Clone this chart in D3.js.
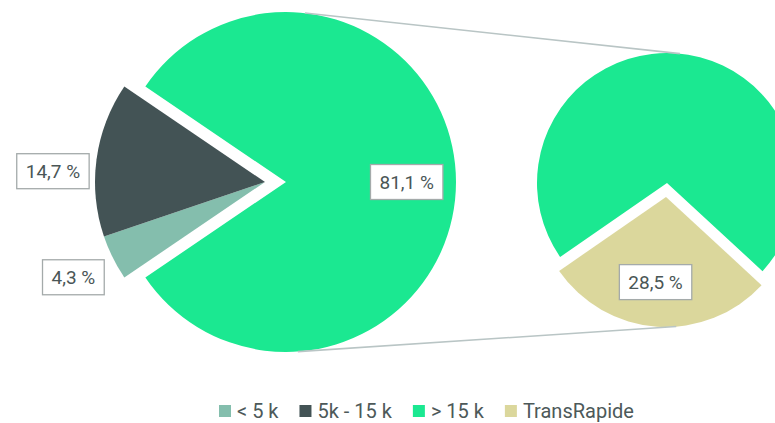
<!DOCTYPE html>
<html>
<head>
  <meta charset="utf-8">
  <title>Pie of pie</title>
  <script src="https://d3js.org/d3.v7.min.js"></script>
  <style>
    body { margin: 0; background: #fff; }
    svg { font-family: Roboto, "Noto Sans", sans-serif; }
  </style>
</head>
<body>
  <div id="chart"></div>
  <script>
    // data
    const mainCats = ["< 5 k", "5k - 15 k", "> 15 k"];
    const mainValues = [4.3, 14.7, 81.1];
    const subCats = ["TransRapide", "> 15 k"];
    const subValues = [28.5, 71.5];
    const legendCats = ["< 5 k", "5k - 15 k", "> 15 k", "TransRapide"];

    const colors = {
      "< 5 k": "#84bead",
      "5k - 15 k": "#435355",
      "> 15 k": "#1be891",
      "TransRapide": "#dbd79c"
    };

    const width = 775, height = 423;
    const deg = Math.PI / 180;
    const svg = d3.select("#chart").append("svg").attr("width", width).attr("height", height);

    const fmt = v => String(v.toFixed(1)).replace(".", ",") + " %";

    // main pie
    const mainC = [286, 182], mainR = 170;
    const total = d3.sum(mainValues);
    const othersHalf = (mainValues[0] + mainValues[1]) / total * 180;
    const mainStart = (270 - othersHalf) * deg;
    const mainPie = d3.pie().sort(null).startAngle(mainStart).endAngle(mainStart + 2 * Math.PI);
    const mainArcs = mainPie(mainValues);
    const arcMain = d3.arc().innerRadius(0).outerRadius(mainR);

    const explodeMain = 21;
    const gMain = svg.append("g").attr("transform", `translate(${mainC[0]},${mainC[1]})`);
    mainArcs.forEach((a, i) => {
      const off = i < 2 ? explodeMain : 0;
      const dir = 270 * deg;
      gMain.append("path")
        .attr("d", arcMain(a))
        .attr("fill", colors[mainCats[i]])
        .attr("transform", `translate(${Math.sin(dir) * off},${-Math.cos(dir) * off})`);
    });

    // sub pie
    const subC = [667, 183], subR = 130;
    const subMid = 184 * deg;
    const subSpan = subValues[0] / d3.sum(subValues) * 2 * Math.PI;
    const subStart = subMid - subSpan / 2;
    const subPie = d3.pie().sort(null).startAngle(subStart).endAngle(subStart + 2 * Math.PI);
    const subArcs = subPie(subValues);
    const arcSub = d3.arc().innerRadius(0).outerRadius(subR);
    const explodeSub = 14;
    const subOff = [Math.sin(subMid) * explodeSub, -Math.cos(subMid) * explodeSub];

    const gSub = svg.append("g").attr("transform", `translate(${subC[0]},${subC[1]})`);
    subArcs.forEach((a, i) => {
      const off = i === 0 ? subOff : [0, 0];
      gSub.append("path")
        .attr("d", arcSub(a))
        .attr("fill", colors[subCats[i]])
        .attr("transform", `translate(${off[0]},${off[1]})`);
    });

    // connector lines
    const pt = (c, r, a, o = [0, 0]) => [c[0] + o[0] + Math.sin(a * deg) * r, c[1] + o[1] - Math.cos(a * deg) * r];
    const lines = [
      [pt(mainC, mainR, 6.4), pt(subC, subR, 5.7)],
      [pt(mainC, mainR, 176), pt(subC, subR, 175.5, subOff)]
    ];
    svg.selectAll("line.conn").data(lines).enter().append("line")
      .attr("class", "conn")
      .attr("x1", d => d[0][0]).attr("y1", d => d[0][1])
      .attr("x2", d => d[1][0]).attr("y2", d => d[1][1])
      .attr("stroke", "#b9c5c5").attr("stroke-width", 1.6);

    // labels
    function label(x, y, text) {
      const g = svg.append("g").attr("transform", `translate(${x},${y})`);
      const t = g.append("text")
        .attr("text-anchor", "middle").attr("dy", "0.35em")
        .attr("font-size", 19).attr("fill", "#4a5656")
        .text(text);
      const w = t.node().getComputedTextLength();
      g.insert("rect", "text")
        .attr("x", -w / 2 - 9).attr("y", -17.5)
        .attr("width", w + 18).attr("height", 35)
        .attr("fill", "#fff").attr("stroke", "#a4aaaa").attr("stroke-width", 1.3);
    }

    const tipMain = [mainC[0] - explodeMain, mainC[1]];
    const labelNudge = [[0, 0], [0, 18], [0, 0]];
    mainArcs.forEach((a, i) => {
      const mid = (a.startAngle + a.endAngle) / 2 / deg;
      let p;
      if (i < 2) p = pt(tipMain, 214, mid);
      else p = pt(mainC, mainR * 0.71, mid);
      label(p[0] + labelNudge[i][0], p[1] + labelNudge[i][1], fmt(mainValues[i]));
    });
    {
      const a = subArcs[0];
      const mid = (a.startAngle + a.endAngle) / 2 / deg;
      const p = pt(subC, subR * 0.66, mid + 3, subOff);
      label(p[0], p[1], fmt(subValues[0]));
    }

    // legend
    const legend = svg.append("g").attr("transform", "translate(219,411)");
    let lx = 0;
    legendCats.forEach(c => {
      legend.append("rect").attr("x", lx).attr("y", -6).attr("width", 12).attr("height", 12)
        .attr("fill", colors[c]);
      const t = legend.append("text").attr("x", lx + 18).attr("dy", "0.35em")
        .attr("font-size", 20).attr("fill", "#4d5959").text(c);
      lx += 18 + t.node().getComputedTextLength() + 21;
    });
  </script>
</body>
</html>
